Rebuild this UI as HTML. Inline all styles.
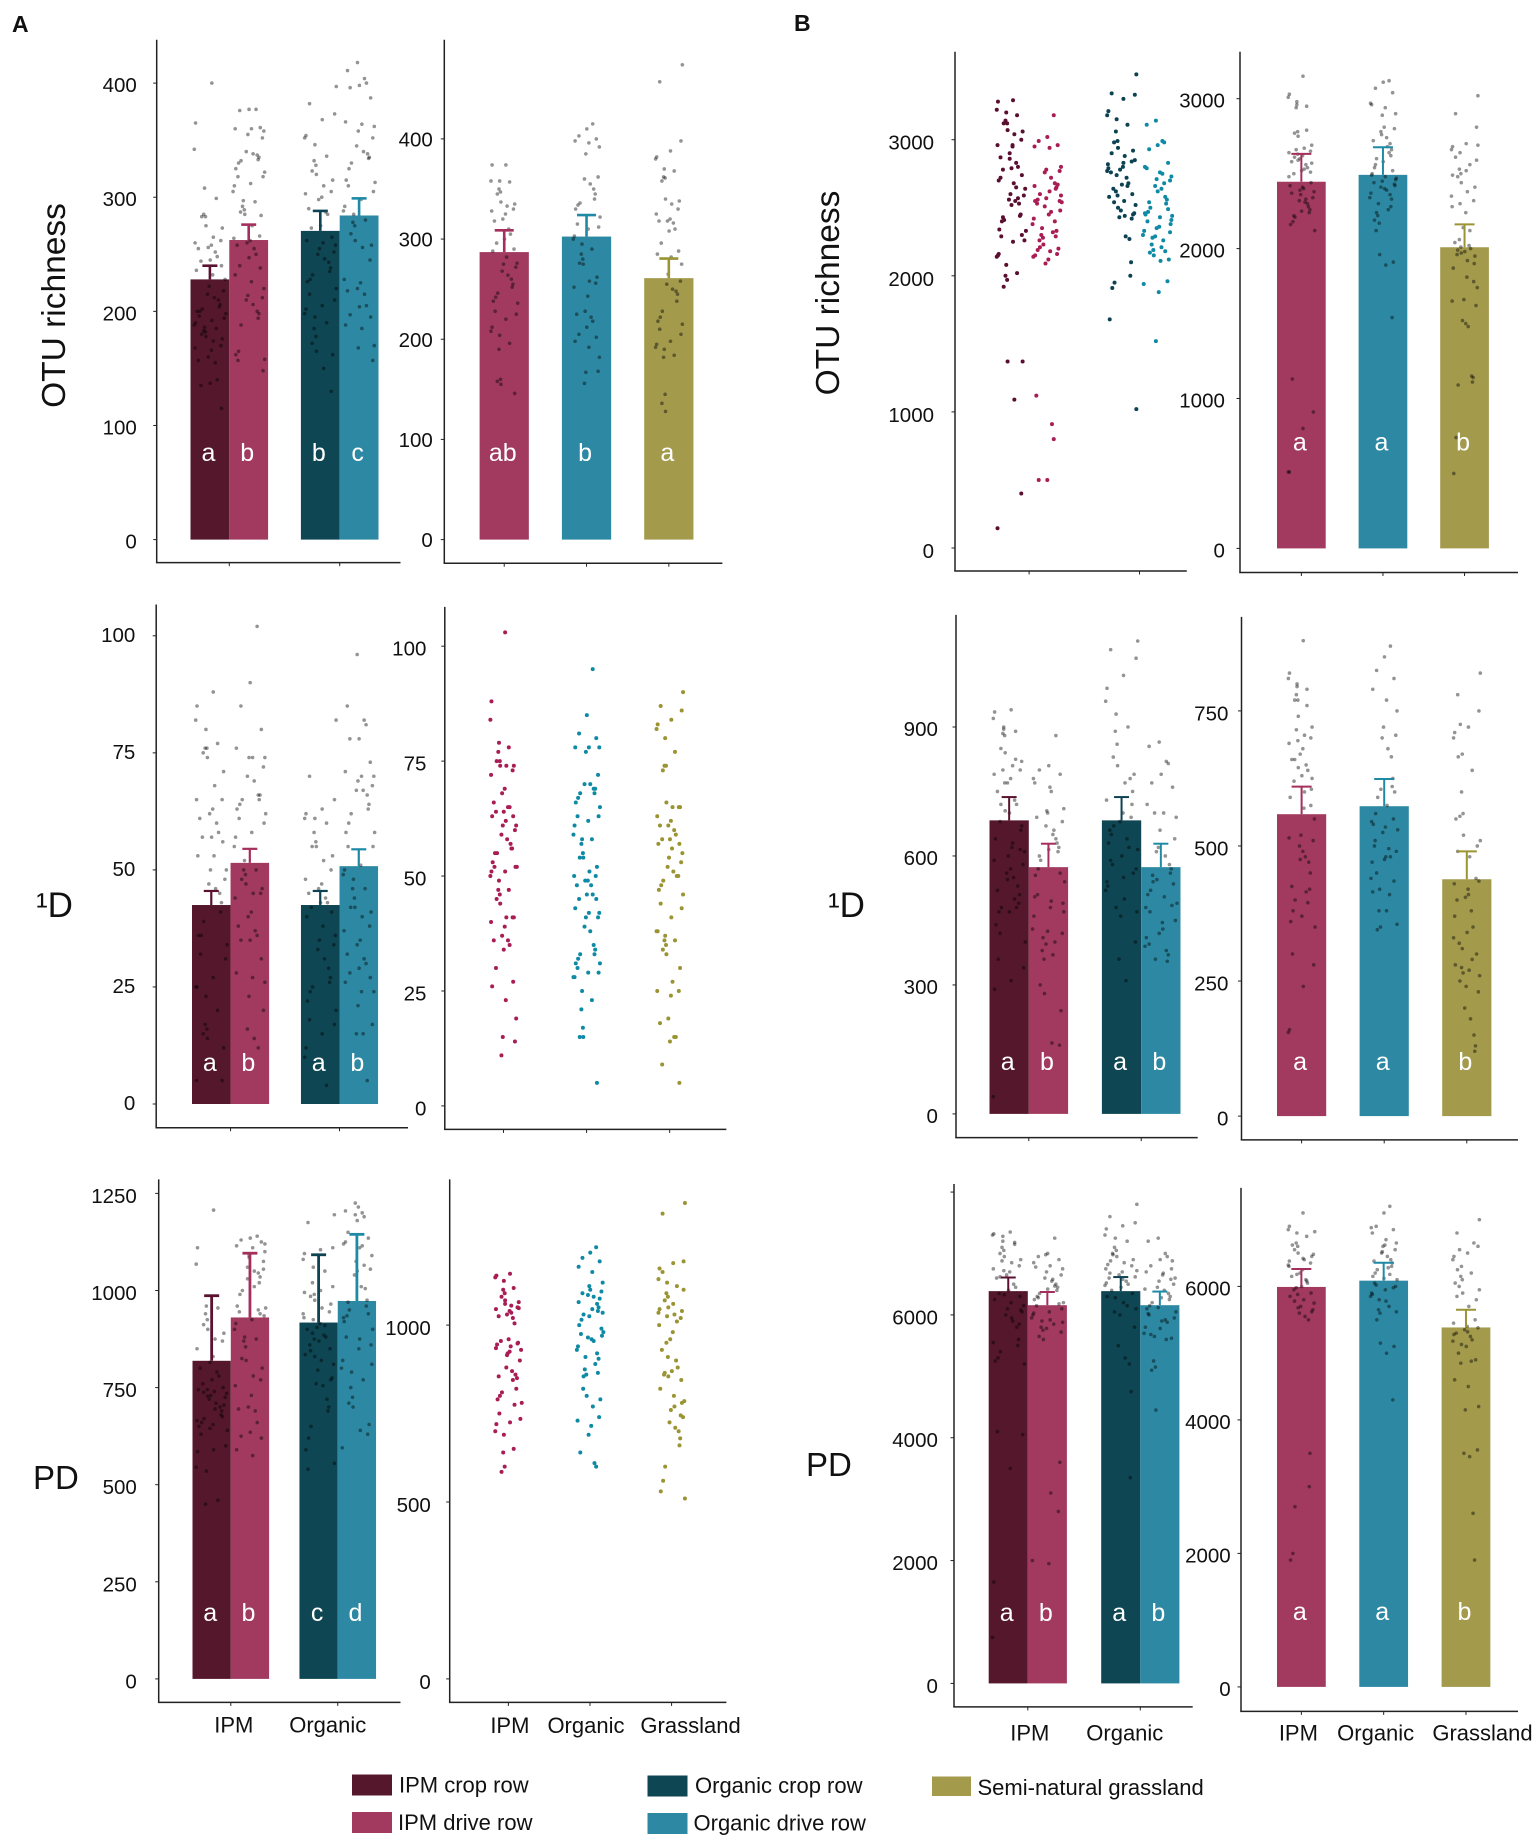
<!DOCTYPE html>
<html lang="en">
<head>
<meta charset="utf-8">
<title>OTU richness, 1D and PD by management</title>
<style>
html,body{margin:0;padding:0;background:#fff;}
svg{display:block;font-family:"Liberation Sans",sans-serif;}
text{fill:#111;}
</style>
</head>
<body>
<svg id="figure" xmlns="http://www.w3.org/2000/svg" width="1535" height="1838" viewBox="0 0 1535 1838">
  <rect x="0" y="0" width="1535" height="1838" fill="#fff"/>
  <text x="12" y="32" font-size="23" font-weight="bold">A</text>
  <text x="794" y="31" font-size="23" font-weight="bold">B</text>
  <text transform="translate(65 305.5) rotate(-90)" text-anchor="middle" font-size="33.5">OTU richness</text>
  <text transform="translate(839 293) rotate(-90)" text-anchor="middle" font-size="33.5">OTU richness</text>
  <text x="36" y="917" font-size="35">¹D</text>
  <text x="828" y="917" font-size="35">¹D</text>
  <text x="33" y="1489" font-size="33">PD</text>
  <text x="806" y="1476" font-size="33">PD</text>
  <g font-size="22">
    <rect x="352" y="1774.5" width="40" height="21" fill="#55172c"/>
    <text x="399" y="1792.5">IPM crop row</text>
    <rect x="352" y="1812" width="40" height="21" fill="#a13a5e"/>
    <text x="398" y="1830">IPM drive row</text>
    <rect x="647.5" y="1775.5" width="40" height="21" fill="#0f4653"/>
    <text x="695" y="1793">Organic crop row</text>
    <rect x="647.5" y="1813" width="40" height="21" fill="#2d89a3"/>
    <text x="693.5" y="1830.5">Organic drive row</text>
    <rect x="932" y="1776.5" width="39" height="19.5" fill="#a39a4c"/>
    <text x="977.5" y="1795">Semi-natural grassland</text>
  </g>
</svg>
<script>
// ---------- categories ----------
const managementLabels = ['IPM', 'Organic'];
const habitatLabels = ['IPM', 'Organic', 'Grassland'];

// ---------- A: OTU richness, row types ----------
const aOtuRowTicks = [0, 100, 200, 300, 400];
const aOtuRowMeans = [228, 262.5, 270.5, 284];
const aOtuRowErrorTops = [240, 276, 288, 299];
const aOtuRowLetters = ['a', 'b', 'b', 'c'];
const aOtuRowIpmCrop = [400,365,342,308,299,285,283,283,275,273,265,262,260,258,256,255,252,248,245,244,240,236,232,228,222,218,215,212,210,206,204,202,200,200,198,196,194,192,190,188,186,185,183,182,180,178,176,174,170,168,166,160,157,155,140,137,135,115];
const aOtuRowIpmDrive = [377,377,376,361,360,360,358,355,352,340,338,337,335,333,332,330,325,322,318,318,312,310,305,297,296,292,289,287,285,284,275,266,264,262,260,258,255,250,247,240,238,232,226,220,214,212,210,206,200,198,194,188,165,162,158,157,148];
const aOtuRowOrgCrop = [397,382,373,368,354,352,346,336,332,328,323,320,315,310,305,303,300,298,290,287,285,275,273,265,262,260,258,255,252,250,246,243,238,235,232,228,226,220,215,210,205,202,198,195,190,185,178,172,165,162,150,130];
const aOtuRowOrgDrive = [418,411,404,400,398,396,387,366,364,362,358,352,345,340,338,335,334,330,325,315,313,310,305,298,292,288,285,280,278,275,268,262,258,256,245,228,225,220,218,215,205,204,197,195,188,185,170,168,157];

// ---------- A: OTU richness, habitats ----------
const aOtuHabTicks = [0, 100, 200, 300, 400];
const aOtuHabMeans = [287, 302.5, 261];
const aOtuHabErrorTops = [308.7, 324, 280.5];
const aOtuHabLetters = ['ab', 'b', 'a'];
const aOtuHabIpm = [374,374,358,358,357,350,347,345,337,335,333,330,328,325,320,318,310,305,300,296,290,288,282,276,275,272,268,264,260,255,252,246,242,238,236,228,225,220,212,208,204,196,190,160,158,155,146];
const aOtuHabOrg = [415,410,403,400,398,396,392,385,362,360,355,350,345,340,336,334,330,322,315,312,310,303,300,295,290,285,280,276,275,262,258,256,252,243,228,225,222,218,212,205,202,198,192,182,167,168,156];
const aOtuHabGrass = [474,457,398,388,382,380,370,368,362,361,358,340,338,335,330,325,320,318,318,316,310,308,296,288,285,282,275,265,258,255,250,248,245,238,228,222,218,215,210,205,198,195,192,190,184,182,145,136,128];

// ---------- A: 1D, row types ----------
const aDivRowTicks = [0, 25, 50, 75, 100];
const aDivRowMeans = [42.5, 51.5, 42.5, 50.8];
const aDivRowErrorTops = [45.5, 54.5, 45.5, 54.4];
const aDivRowLetters = ['a', 'b', 'a', 'b'];
const aDivRowIpmCrop = [88,85,82,80,77,76,76,75,74,71,68,65,65,63,62,61,60,58,57,57,56,53,53,50,50,48,47,46,45,43,41,39,36,36,34,32,31,27,25,25,23,20,17,16,15,14,12,8,5,5];
const aDivRowIpmDrive = [102,90,85,80,76,74,74,74,72,70,69,66,66,65,65,64,63,62,61,60,58,57,55,52,50,50,49,48,47,46,45,45,44,41,40,38,37,36,35,35,31,28,27,26,23,20,16,14,12];
const aDivRowOrgCrop = [82,70,65,63,62,61,61,60,58,56,55,55,53,52,50,48,47,46,45,44,43,43,42,41,40,38,36,35,34,33,31,29,27,26,25,24,22,20,18,17,15,12,10,8,4];
const aDivRowOrgDrive = [96,85,82,81,78,78,73,71,70,70,69,68,67,67,66,64,63,62,60,58,58,55,55,51,50,49,48,46,46,44,42,42,41,40,38,37,35,34,32,31,30,29,28,27,26,24,24,21,17,15,15,5];

// ---------- A: 1D, habitats (points only) ----------
const aDivHabTicks = [0, 25, 50, 75, 100];
const aDivHabIpm = [103,88,84,79,78,77,75,75,74,74,74,73,72,69,68,66,65,65,64,64,63,63,62,61,61,60,59,58,57,56,56,55,55,53,52,52,52,51,51,50,49,47,47,46,45,44,41,41,41,40,39,37,36,36,35,34,30,27,26,23,19,15,14,11];
const aDivHabOrg = [95,85,81,80,78,78,78,77,72,70,70,69,69,68,68,67,66,65,63,63,62,61,59,58,58,57,55,54,54,52,51,50,50,49,49,48,48,46,46,45,45,43,42,42,41,41,39,38,35,34,33,33,32,31,31,30,29,29,28,28,25,23,21,17,15,15,5];
const aDivHabGrass = [90,87,86,84,83,82,80,77,74,74,73,66,65,65,65,63,62,61,61,60,59,58,58,57,57,56,55,54,53,52,51,50,50,50,49,48,47,46,44,43,41,38,38,37,36,36,35,34,33,30,27,25,25,24,19,18,15,15,14,9,5];

// ---------- A: PD, row types ----------
const aPdRowTicks = [0, 250, 500, 750, 1000, 1250];
const aPdRowMeans = [819, 930.6, 917.5, 973];
const aPdRowErrorTops = [986.6, 1096, 1092, 1144.6];
const aPdRowLetters = ['a', 'b', 'c', 'd'];
const aPdRowIpmCrop = [1207,1110,1068,960,955,940,925,912,900,890,875,870,850,830,815,800,790,780,770,760,750,745,740,735,730,725,720,710,700,690,680,670,660,650,640,630,600,590,585,545,535,460,450,745,738,728,705,695,675,665,655,645];
const aPdRowIpmDrive = [1140,1135,1130,1125,1115,1110,1100,1090,1075,1060,1050,1045,1035,1020,1000,990,960,955,945,935,925,915,900,880,875,870,855,825,820,800,780,770,755,730,700,695,690,660,635,625,620,590,575,1120,1085,1055,1030,1010,950,940];
const aPdRowOrgCrop = [1195,1175,1110,1105,1095,1080,1060,1050,1020,990,985,975,965,955,945,930,915,905,900,885,880,870,860,850,835,820,810,795,775,760,755,720,700,690,650,620,590,555,540,1010,1000,995,940,925,910,890,875,845,830,770];
const aPdRowOrgDrive = [1225,1205,1200,1190,1180,1150,1135,1120,1110,1090,1075,1055,1040,1010,1005,975,960,950,935,920,900,880,860,850,820,800,790,770,750,725,710,700,655,640,630,595,1215,1195,1125,1115,1065,1050,970,940,930,875,810];

// ---------- A: PD, habitats (points only) ----------
const aPdHabTicks = [0, 500, 1000];
const aPdHabIpm = [1145,1140,1135,1125,1105,1100,1090,1080,1070,1065,1055,1050,1045,1040,1030,1025,1020,1005,960,955,950,945,940,930,920,900,880,870,860,850,820,810,800,790,780,750,735,725,720,700,690,650,640,600,585,1060,1048,1035,948,935,925,915,855,845,775];
const aPdHabOrg = [1220,1205,1190,1180,1165,1150,1120,1110,1095,1085,1080,1060,1050,1040,1030,1015,1000,980,975,970,960,940,930,910,890,875,860,820,800,790,770,740,730,715,690,640,610,600,1100,1090,1075,1065,1045,1035,1025,990,965,955,920,905,865,855];
const aPdHabGrass = [1345,1315,1180,1175,1160,1130,1120,1110,1090,1080,1070,1050,1040,1030,1020,1000,980,960,930,900,880,870,860,845,820,800,785,760,740,725,710,700,680,660,600,560,530,510,1150,1100,1060,1045,1035,1025,1010,950,910,865,855,780,770,745];

// ---------- B: OTU richness, row types (points only) ----------
const bOtuRowTicks = [0, 1000, 2000, 3000];
const bOtuRowIpmCrop = [3290,3280,3220,3200,3180,3140,3120,3120,3070,3060,3040,3000,2960,2950,2900,2870,2830,2800,2790,2780,2740,2700,2680,2640,2600,2590,2560,2550,2530,2450,2440,2410,2400,2340,2330,2290,2260,2250,2150,2140,2080,2020,2000,1970,1920,1370,1370,1090,400,145,2960,2860,2720,2650,2570,2520,2430,2300,2160];
const bOtuRowIpmDrive = [3180,3020,2990,2960,2950,2940,2800,2780,2770,2760,2720,2680,2650,2640,2600,2560,2550,2540,2530,2480,2450,2420,2380,2350,2320,2300,2280,2260,2230,2200,2180,2160,2140,2120,2090,1120,910,800,500,500,2670,2660,2620,2590,2570,2550,2510,2470,2400,2330,2290,2210,2190,2150];
const bOtuRowOrgCrop = [3480,3340,3330,3300,3210,3180,3150,3110,3060,2990,2980,2940,2920,2880,2840,2820,2800,2780,2760,2720,2680,2670,2640,2600,2580,2550,2520,2480,2460,2430,2290,2270,2100,2000,1950,1910,1680,1020,2900,2850,2830,2790,2770,2740,2660,2620,2590,2540,2500,2450,2440,2420];
const bOtuRowOrgDrive = [3140,3110,2990,2980,2960,2930,2830,2800,2760,2730,2710,2700,2660,2640,2580,2560,2530,2500,2470,2450,2440,2400,2380,2360,2330,2300,2280,2260,2230,2190,2170,2150,2120,2110,1960,1940,1880,1520,2790,2750,2680,2620,2540,2490,2460,2430,2410,2350,2320,2290,2210,2180];

// ---------- B: OTU richness, habitats ----------
const bOtuHabTicks = [0, 1000, 2000, 3000];
const bOtuHabMeans = [2446, 2492, 2009];
const bOtuHabErrorTops = [2632, 2676, 2162];
const bOtuHabLetters = ['a', 'a', 'b'];
const bOtuHabIpm = [3150,3030,3010,2960,2950,2940,2780,2770,2750,2690,2670,2650,2640,2620,2600,2580,2560,2540,2520,2500,2440,2420,2400,2380,2360,2340,2320,2310,2280,2260,2240,2210,2180,2160,2120,1130,910,800,510,510,2980,2790,2660,2630,2610,2590,2570,2530,2510,2480,2410,2390,2370,2330,2300,2250,2220];
const bOtuHabOrg = [3120,3110,3070,3040,2960,2940,2900,2890,2800,2780,2740,2700,2660,2620,2600,2540,2500,2470,2440,2420,2400,2370,2340,2300,2260,2220,2170,2120,1960,1910,1890,1540,2970,2810,2760,2720,2680,2640,2580,2560,2520,2490,2480,2460,2450,2430,2410,2390,2360,2330,2280,2240,2190];
const bOtuHabGrass = [3020,2900,2810,2700,2680,2660,2640,2560,2530,2500,2480,2440,2410,2380,2320,2280,2240,2140,2040,2020,2000,1980,1960,1900,1870,1810,1740,1660,1620,1520,1480,1150,1140,1110,1090,740,500,2690,2610,2590,2520,2490,2350,2300,2120,2060,2010,1990,1970,1950,1920,1780,1650,1500];

// ---------- B: 1D, row types ----------
const bDivRowTicks = [0, 300, 600, 900];
const bDivRowMeans = [682.8, 574, 682.8, 574];
const bDivRowErrorTops = [737, 628.5, 737, 628.5];
const bDivRowLetters = ['a', 'b', 'a', 'b'];
const bDivRowIpmCrop = [940,935,920,900,890,885,880,850,840,820,810,800,790,780,770,750,730,720,700,680,660,640,620,610,600,580,560,550,530,510,490,480,470,440,400,360,340,310,290,40,895,825,800,770,720,705,670,630,615,590,570,545,520,500,480,470,420];
const bDivRowIpmDrive = [880,810,800,790,770,750,710,700,680,670,650,630,620,610,590,570,555,540,510,490,480,460,430,410,400,380,360,300,280,240,165,160,780,760,705,690,660,640,615,600,560,505,495,470,425,420,395,370];
const bDivRowOrgCrop = [1100,1080,1060,1020,990,960,930,900,890,860,830,810,790,770,750,730,700,680,660,640,620,600,580,560,530,500,470,460,400,360,310,780,720,690,670,650,630,615,590,570,550,540,520,480];
const bDivRowOrgDrive = [865,855,820,815,790,770,760,720,700,690,660,640,620,600,580,570,560,540,520,510,490,470,450,430,410,390,360,355,700,610,555,545,535,505,485,480,445,420,395,380,370];

// ---------- B: 1D, habitats ----------
const bDivHabTicks = [0, 250, 500, 750];
const bDivHabMeans = [558.8, 573.6, 438.4];
const bDivHabErrorTops = [609.8, 624, 490];
const bDivHabLetters = ['a', 'a', 'b'];
const bDivHabIpm = [880,820,810,800,790,780,770,770,740,720,705,700,690,680,670,660,650,640,630,620,605,590,570,550,520,510,500,480,470,450,420,400,380,360,350,300,280,240,160,155,795,760,715,695,660,645,625,600,575,515,490,475,425,415,395,370];
const bDivHabOrg = [870,850,825,810,790,770,750,720,705,700,680,665,625,610,590,560,540,530,510,490,480,470,440,420,410,380,350,345,605,600,575,550,545,535,525,500,495,480,475,450,435,415,380,355];
const bDivHabGrass = [820,780,750,720,710,700,670,640,600,560,555,520,500,480,440,430,420,405,400,380,350,340,320,300,280,270,260,240,230,200,180,150,130,120,725,665,550,510,490,435,410,370,330,310,290,275,265,250];

// ---------- B: PD, row types ----------
const bPdRowTicks = [0, 2000, 4000, 6000, 8000];
const bPdRowTickLabels = ['0', '2000', '4000', '6000', ''];
const bPdRowMeans = [6387, 6158, 6387, 6158];
const bPdRowErrorTops = [6609, 6373, 6616, 6380];
const bPdRowLetters = ['a', 'b', 'a', 'b'];
const bPdRowIpmCrop = [7350,7320,7300,7200,7150,7100,7050,7000,6950,6900,6850,6800,6750,6700,6650,6600,6500,6450,6400,6350,6300,6250,6200,6150,6100,6050,6000,5900,5800,5600,5500,5400,5300,5250,5200,4100,4050,3500,1650,750,7280,7180,6880,6720,6620,6330,6080,5950,5850,5550];
const bPdRowIpmDrive = [7250,7000,6950,6900,6850,6800,6750,6700,6650,6600,6550,6500,6450,6400,6350,6300,6250,6200,6150,6100,6050,6000,5950,5900,5850,5800,5750,5650,5600,3600,3100,2800,2000,1950,6980,6780,6580,6470,6420,6280,6180,6030,5920,5880,5780,5720];
const bPdRowOrgCrop = [7800,7600,7500,7450,7400,7300,7250,7200,7100,7050,7000,6950,6900,6850,6800,6750,6700,6650,6600,6550,6500,6450,6400,6350,6300,6200,6100,6000,5800,5500,5300,5200,4750,3350,6980,6880,6820,6720,6680,6620,6580,6520,6480,6280,6150,6050];
const bPdRowOrgDrive = [7250,7200,7000,6950,6900,6800,6750,6700,6650,6600,6550,6500,6450,6400,6350,6300,6250,6200,6150,6100,6050,6000,5950,5900,5800,5700,5650,5600,5250,5150,5100,4450,6880,6680,6580,6420,6280,6120,6020,5920,5880,5780,5680,5620];

// ---------- B: PD, habitats ----------
const bPdHabTicks = [0, 2000, 4000, 6000];
const bPdHabMeans = [5992, 6086, 5385];
const bPdHabErrorTops = [6260, 6355, 5650];
const bPdHabLetters = ['a', 'a', 'b'];
const bPdHabIpm = [7100,6900,6850,6800,6750,6650,6600,6550,6500,6450,6400,6350,6300,6250,6200,6150,6100,6050,6000,5950,5900,5850,5800,5750,5700,5650,5600,5550,5500,3500,3000,2700,2000,1900,6820,6620,6480,6420,6380,6320,6180,6080,5980,5880,5780,5680,5620];
const bPdHabOrg = [7200,7100,6900,6850,6800,6700,6650,6600,6550,6500,6450,6400,6350,6300,6250,6200,6150,6100,6050,6000,5950,5900,5850,5800,5700,5650,5600,5500,5150,5100,5000,4300,6880,6620,6520,6380,6280,6180,6120,6020,5980,5880,5780,5620];
const bPdHabGrass = [7000,6800,6600,6500,6450,6400,6300,6200,6150,6100,6000,5900,5800,5700,5500,5450,5400,5350,5300,5250,5200,5100,5000,4900,4600,4500,4200,4150,3550,3500,3450,2600,1900,6650,6550,6250,6050,5950,5850,5380,5320,5280,5180,5130,4880,4850];

// ---------- colours ----------
const rowFills = ['#55172c', '#a13a5e', '#0f4653', '#2d89a3'];
const habFills = ['#a13a5e', '#2d89a3', '#a39a4c'];
const rowErrorColors = ['#5a1230', '#a52f5c', '#0d4252', '#1f8aa6'];
const habErrorColors = ['#a52f5c', '#1f8aa6', '#9a9433'];
const rowDotColors = ['#5b0f30', '#a91d54', '#0d4252', '#0f8aa5'];
const habDotColors = ['#a91d54', '#0f8aa5', '#9a9433'];

// ---------- panel definitions: data arrays plus page layout ----------
const panels = [
  { id:'a-otu-row', ticks:aOtuRowTicks, means:aOtuRowMeans, errorTops:aOtuRowErrorTops, letters:aOtuRowLetters,
    series:[aOtuRowIpmCrop,aOtuRowIpmDrive,aOtuRowOrgCrop,aOtuRowOrgDrive], kind:'row',
    box:{axisX:156.7,top:39.8,bottom:562.6,right:400.5}, scale:{zeroY:539.6,refVal:400,refY:83.1},
    band:{left:190.5,width:38.8,pitch:38.8,gap:32.8}, labelRight:136.8, labelDy:1.5, letterY:452.7, capHalf:7.5, stroke:2.6 },
  { id:'a-otu-habitat', ticks:aOtuHabTicks, means:aOtuHabMeans, errorTops:aOtuHabErrorTops, letters:aOtuHabLetters,
    series:[aOtuHabIpm,aOtuHabOrg,aOtuHabGrass], kind:'hab',
    box:{axisX:444.3,top:39.8,bottom:563.2,right:722.4}, scale:{zeroY:539.6,refVal:400,refY:138.9},
    band:{left:479.6,width:49.25,pitch:82.3,gap:0}, labelRight:432.8, labelDy:0, letterY:452.7, capHalf:9.5, stroke:2.6 },
  { id:'a-div-row', ticks:aDivRowTicks, means:aDivRowMeans, errorTops:aDivRowErrorTops, letters:aDivRowLetters,
    series:[aDivRowIpmCrop,aDivRowIpmDrive,aDivRowOrgCrop,aDivRowOrgDrive], kind:'row',
    box:{axisX:156.2,top:604.5,bottom:1127.7,right:408}, scale:{zeroY:1104,refVal:100,refY:635.8},
    band:{left:192,width:38.55,pitch:38.55,gap:31.85}, labelRight:135.3, labelDy:-1.5, letterY:1062.6, capHalf:7.5, stroke:2.2 },
  { id:'a-div-habitat', ticks:aDivHabTicks, series:[aDivHabIpm,aDivHabOrg,aDivHabGrass], kind:'hab',
    box:{axisX:444.8,top:606.9,bottom:1129.4,right:726.4}, scale:{zeroY:1105.9,refVal:100,refY:646.2},
    band:{left:479.1,width:48.75,pitch:83.1,gap:0}, labelRight:426.4, labelDy:2 },
  { id:'a-pd-row', ticks:aPdRowTicks, means:aPdRowMeans, errorTops:aPdRowErrorTops, letters:aPdRowLetters,
    series:[aPdRowIpmCrop,aPdRowIpmDrive,aPdRowOrgCrop,aPdRowOrgDrive], kind:'row',
    box:{axisX:158.7,top:1179.4,bottom:1702.4,right:400.5}, scale:{zeroY:1678.9,refVal:1250,refY:1193.4},
    band:{left:192.5,width:38.3,pitch:38.3,gap:30.35}, labelRight:136.8, labelDy:2, letterY:1612.5, capHalf:7.5, stroke:2.8,
    xLabels:managementLabels, xLabelShift:[3,-10], xLabelY:1732.5 },
  { id:'a-pd-habitat', ticks:aPdHabTicks, series:[aPdHabIpm,aPdHabOrg,aPdHabGrass], kind:'hab',
    box:{axisX:449.7,top:1179.4,bottom:1702.4,right:726.4}, scale:{zeroY:1678.9,refVal:1000,refY:1325.1},
    band:{left:484,width:48.75,pitch:81.6,gap:0}, labelRight:430.8, labelDy:2.5,
    xLabels:habitatLabels, xLabelShift:[1.5,-4,19], xLabelY:1733 },
  { id:'b-otu-row', ticks:bOtuRowTicks, series:[bOtuRowIpmCrop,bOtuRowIpmDrive,bOtuRowOrgCrop,bOtuRowOrgDrive], kind:'row',
    box:{axisX:955,top:51.7,bottom:571,right:1186.8}, scale:{zeroY:548,refVal:3000,refY:139.7},
    band:{left:993.3,width:35.8,pitch:35.8,gap:38.8}, labelRight:934, labelDy:2.5 },
  { id:'b-otu-habitat', ticks:bOtuHabTicks, means:bOtuHabMeans, errorTops:bOtuHabErrorTops, letters:bOtuHabLetters,
    series:[bOtuHabIpm,bOtuHabOrg,bOtuHabGrass], kind:'hab',
    box:{axisX:1240,top:51.7,bottom:572.5,right:1518}, scale:{zeroY:548.4,refVal:3000,refY:98.7},
    band:{left:1277,width:48.7,pitch:81.6,gap:0}, labelRight:1224.9, labelDy:1.5, letterY:441.8, capHalf:10, stroke:2 },
  { id:'b-div-row', ticks:bDivRowTicks, means:bDivRowMeans, errorTops:bDivRowErrorTops, letters:bDivRowLetters,
    series:[bDivRowIpmCrop,bDivRowIpmDrive,bDivRowOrgCrop,bDivRowOrgDrive], kind:'row',
    box:{axisX:956,top:614.9,bottom:1137.6,right:1197.7}, scale:{zeroY:1113.9,refVal:900,refY:727},
    band:{left:989.5,width:39.3,pitch:39.3,gap:33.8}, labelRight:937.9, labelDy:1.5, letterY:1061.3, capHalf:7.5, stroke:2 },
  { id:'b-div-habitat', ticks:bDivHabTicks, means:bDivHabMeans, errorTops:bDivHabErrorTops, letters:bDivHabLetters,
    series:[bDivHabIpm,bDivHabOrg,bDivHabGrass], kind:'hab',
    box:{axisX:1241.5,top:616.9,bottom:1139.9,right:1518}, scale:{zeroY:1116.1,refVal:750,refY:710.9},
    band:{left:1277,width:49.2,pitch:82.6,gap:0}, labelRight:1228.4, labelDy:2, letterY:1061.3, capHalf:10, stroke:2 },
  { id:'b-pd-row', ticks:bPdRowTicks, tickLabels:bPdRowTickLabels, means:bPdRowMeans, errorTops:bPdRowErrorTops, letters:bPdRowLetters,
    series:[bPdRowIpmCrop,bPdRowIpmDrive,bPdRowOrgCrop,bPdRowOrgDrive], kind:'row',
    box:{axisX:954,top:1184,bottom:1706.9,right:1192.7}, scale:{zeroY:1683.4,refVal:6000,refY:1314.9},
    band:{left:988.7,width:39.1,pitch:39.1,gap:34.3}, labelRight:937.9, labelDy:2, letterY:1612.6, capHalf:7.5, stroke:2,
    xLabels:managementLabels, xLabelShift:[2,-15.5], xLabelY:1740.5 },
  { id:'b-pd-habitat', ticks:bPdHabTicks, means:bPdHabMeans, errorTops:bPdHabErrorTops, letters:bPdHabLetters,
    series:[bPdHabIpm,bPdHabOrg,bPdHabGrass], kind:'hab',
    box:{axisX:1241,top:1187.9,bottom:1711.4,right:1518}, scale:{zeroY:1686.9,refVal:6000,refY:1286.4},
    band:{left:1277,width:48.75,pitch:82.3,gap:0}, labelRight:1230.7, labelDy:1.5, letterY:1611.5, capHalf:10, stroke:2,
    xLabels:habitatLabels, xLabelShift:[-3,-8,16.5], xLabelY:1740.5 }
];

// ---------- display-only horizontal scatter pattern (fractions of the jitter width) ----------
const jitterPattern = [0.12,-0.71,0.58,-0.24,0.93,-0.88,0.33,-0.47,0.76,-0.05,-0.96,0.45,-0.62,0.21,0.84,-0.33,0.02,-0.79,0.67,-0.15,0.39,-0.55,0.98,-0.91,0.27,-0.38,0.71,-0.66,0.09,0.52,-0.27,-0.83,0.88,-0.1,0.63,-0.5,0.17];

// ---------- drawing ----------
const SVG_NS = 'http://www.w3.org/2000/svg';
const figure = document.getElementById('figure');

function make(tag, attrs, parent) {
  const el = document.createElementNS(SVG_NS, tag);
  for (const key in attrs) el.setAttribute(key, attrs[key]);
  parent.appendChild(el);
  return el;
}
function yAxisScale(scale) {
  const pxPerUnit = (scale.zeroY - scale.refY) / scale.refVal;
  return function (v) { return scale.zeroY - v * pxPerUnit; };
}
function barLeft(band, i) {
  return band.left + i * band.pitch + (i >= 2 ? band.gap : 0);
}
function barCenter(band, i) {
  return barLeft(band, i) + band.width / 2;
}
function jitter(i, s) {
  return jitterPattern[(i * 5 + s * 11) % jitterPattern.length];
}
function categoryCenters(p) {
  if (p.kind === 'row') {
    return [barLeft(p.band, 1), barLeft(p.band, 3)];
  }
  return p.series.map(function (s, i) { return barCenter(p.band, i); });
}

panels.forEach(function (p) {
  const y = yAxisScale(p.scale);
  const hasBars = !!p.means;
  const fills = p.kind === 'row' ? rowFills : habFills;
  const errColors = p.kind === 'row' ? rowErrorColors : habErrorColors;
  const dotColors = p.kind === 'row' ? rowDotColors : habDotColors;
  const spread = (p.kind === 'row' ? 0.42 : 0.28) * p.band.width;

  const g = make('g', {}, figure);
  
  

  if (hasBars) {
    p.means.forEach(function (m, i) {
      const bar = make('rect', { x: barLeft(p.band, i), y: y(m), width: p.band.width, height: y(0) - y(m), fill: fills[i] }, g);
      
      
    });
  }

  p.series.forEach(function (values, s) {
    values.forEach(function (v, i) {
      const dot = make('circle', {
        cx: barCenter(p.band, s) + jitter(i, s) * spread,
        cy: y(v),
        r: hasBars ? 1.8 : 2,
        fill: hasBars ? '#000' : dotColors[s],
        'fill-opacity': hasBars ? 0.42 : 1
      }, g);
      
      
    });
  });

  if (hasBars) {
    p.errorTops.forEach(function (t, i) {
      const cx = barCenter(p.band, i);
      const stem = make('line', { x1: cx, x2: cx, y1: y(p.means[i]), y2: y(t), stroke: errColors[i], 'stroke-width': p.stroke }, g);
      
      
      const cap = make('line', { x1: cx - p.capHalf, x2: cx + p.capHalf, y1: y(t), y2: y(t), stroke: errColors[i], 'stroke-width': p.stroke }, g);
      
      
    });
    p.letters.forEach(function (letter, i) {
      const txt = make('text', { x: barCenter(p.band, i) - 1.5, y: p.letterY + 8.5, 'text-anchor': 'middle', 'font-size': 25, style: 'fill:#fff' }, g);
      txt.textContent = letter;
      
      
    });
  }

  const yAxis = make('line', { x1: p.box.axisX, x2: p.box.axisX, y1: p.box.top, y2: p.box.bottom, stroke: '#222', 'stroke-width': 1.5 }, g);
  
  
  const xAxis = make('line', { x1: p.box.axisX - 0.75, x2: p.box.right, y1: p.box.bottom, y2: p.box.bottom, stroke: '#222', 'stroke-width': 1.5 }, g);
  
  

  p.ticks.forEach(function (t, i) {
    const tick = make('line', { x1: p.box.axisX - 3.5, x2: p.box.axisX, y1: y(t), y2: y(t), stroke: '#222', 'stroke-width': 1 }, g);
    
    
    const label = make('text', { x: p.labelRight, y: y(t) + p.labelDy + 7.5, 'text-anchor': 'end', 'font-size': 20.5 }, g);
    label.textContent = p.tickLabels ? p.tickLabels[i] : String(t);
    
    
  });

  categoryCenters(p).forEach(function (cx, i) {
    const tick = make('line', { x1: cx, x2: cx, y1: p.box.bottom, y2: p.box.bottom + 3.5, stroke: '#222', 'stroke-width': 1 }, g);
    
    
    if (p.xLabels) {
      const label = make('text', { x: cx + p.xLabelShift[i], y: p.xLabelY, 'text-anchor': 'middle', 'font-size': 22 }, g);
      label.textContent = p.xLabels[i];
      
      
    }
  });
});
</script>
</body>
</html>
